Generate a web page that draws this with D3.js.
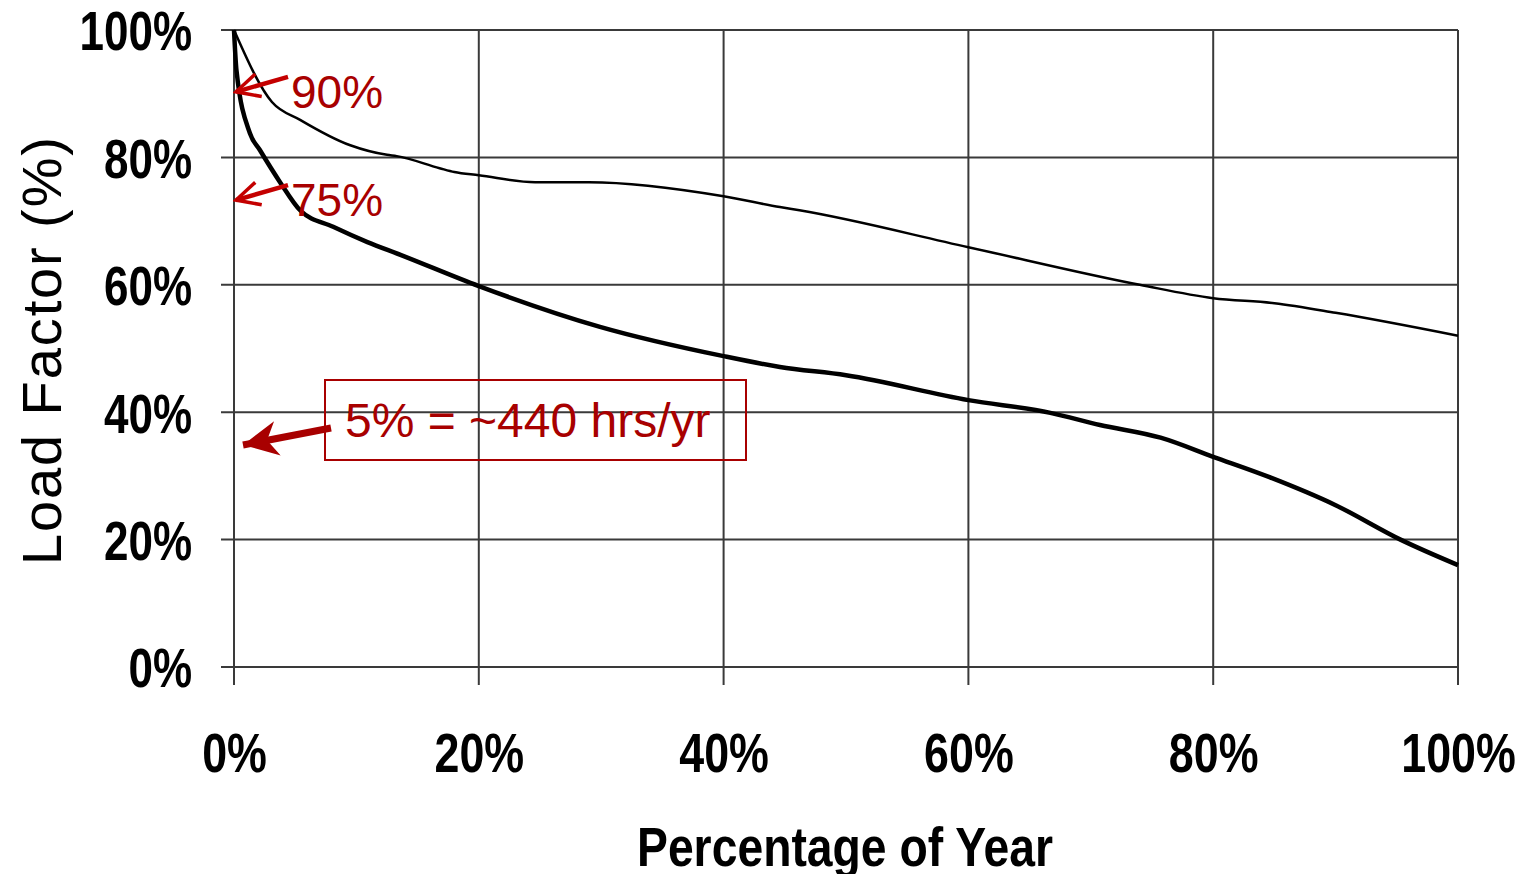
<!DOCTYPE html>
<html>
<head>
<meta charset="utf-8">
<script src="https://cdn.jsdelivr.net/npm/d3@7"></script>
<style>
  body { margin: 0; background: #fff; }
  .tick-label { font-family: "Liberation Sans", Arial, sans-serif; font-weight: bold; }
</style>
</head>
<body>
<div id="container"></div>
<script>
// DATA
const xTicks = [0, 20, 40, 60, 80, 100];
const yTicks = [0, 20, 40, 60, 80, 100];

// thin line (upper curve)
const upperYear = [0, 3.1, 5.4, 9.5, 12.5, 13.3, 16.8, 18, 20, 24.6, 29, 40, 44.6, 46.2, 60, 74, 80, 85, 90, 100];
const upperLoad = [100, 88.7, 85.9, 81.9, 80.4, 80.2, 78.3, 77.7, 77.2, 76.1, 76.1, 73.9, 72.2, 71.7, 65.9, 60, 57.9, 57.1, 55.6, 52];

// thick line (lower curve)
const lowerYear = [0, 0.2, 1.3, 2.1, 3.8, 5.4, 8.1, 10.9, 13.6, 20, 29.9, 40, 44.6, 50, 60, 66.7, 70.75, 75.7, 80, 84.6, 90, 95.3, 100];
const lowerLoad = [100, 93.7, 83.8, 81.2, 76, 71.7, 69.1, 66.7, 64.7, 59.8, 53.4, 48.8, 47.1, 45.8, 41.9, 39.9, 38, 36, 33, 29.8, 25.4, 20, 16];

// callouts
const calloutLabels = ["90%", "75%"];
const calloutValues = [90.3, 73.3];
const noteText = "5% = ~440 hrs/yr";
const noteValue = 34.7;

// SIZES
const W = 1517, H = 874;
const x = d3.scaleLinear().domain([0, 100]).range([234, 1458]);
const y = d3.scaleLinear().domain([0, 100]).range([667, 30]);
const gridColor = "#3a3a3a";
const red = "#a80000";
const narrow = 0.8; // squeeze bold text to look like a narrow face

function squeeze(sel, factor) {
  sel.each(function() {
    const w = this.getComputedTextLength();
    d3.select(this)
      .attr("textLength", w * factor)
      .attr("lengthAdjust", "spacingAndGlyphs");
  });
}

const svg = d3.select("#container")
  .append("svg")
  .attr("width", W)
  .attr("height", H)
  .style("display", "block");

// gridlines
svg.append("g")
  .selectAll("line")
  .data(yTicks)
  .enter()
  .append("line")
  .attr("x1", x(0) - 13)
  .attr("x2", x(100))
  .attr("y1", d => y(d))
  .attr("y2", d => y(d))
  .attr("stroke", gridColor)
  .attr("stroke-width", 2);

svg.append("g")
  .selectAll("line")
  .data(xTicks)
  .enter()
  .append("line")
  .attr("x1", d => x(d))
  .attr("x2", d => x(d))
  .attr("y1", y(100))
  .attr("y2", y(0) + 18)
  .attr("stroke", gridColor)
  .attr("stroke-width", 2);

// axes (labels only)
const yAxis = svg.append("g")
  .attr("transform", `translate(${x(0)},0)`)
  .call(d3.axisLeft(y).tickValues(yTicks).tickSize(0).tickPadding(42).tickFormat(d => d + "%"));
yAxis.select(".domain").remove();
yAxis.selectAll("text")
  .attr("class", "tick-label")
  .attr("fill", "#000")
  .attr("dy", "0.36em")
  .style("font-size", "55px")
  .call(squeeze, narrow);

const xAxis = svg.append("g")
  .attr("transform", `translate(0,${y(0)})`)
  .call(d3.axisBottom(x).tickValues(xTicks).tickSize(0).tickFormat(d => d + "%"));
xAxis.select(".domain").remove();
xAxis.selectAll("text")
  .attr("class", "tick-label")
  .attr("fill", "#000")
  .attr("y", 105)
  .attr("dy", 0)
  .style("font-size", "56px")
  .call(squeeze, narrow);

// axis titles
svg.append("text")
  .attr("class", "tick-label")
  .attr("x", 845)
  .attr("y", 866)
  .attr("text-anchor", "middle")
  .style("font-size", "55px")
  .attr("textLength", 416)
  .attr("lengthAdjust", "spacingAndGlyphs")
  .text("Percentage of Year");

svg.append("text")
  .attr("transform", "translate(61,351) rotate(-90)")
  .attr("text-anchor", "middle")
  .attr("font-family", "'Liberation Sans', Arial, sans-serif")
  .style("font-size", "56px")
  .attr("textLength", 428)
  .attr("lengthAdjust", "spacing")
  .text("Load Factor (%)");

// lines
const line = d3.line()
  .x(d => x(d[0]))
  .y(d => y(d[1]))
  .curve(d3.curveMonotoneX);

svg.append("path")
  .datum(upperYear.map((d, i) => [d, upperLoad[i]]))
  .attr("d", line)
  .attr("fill", "none")
  .attr("stroke", "#000")
  .attr("stroke-width", 2.5)
  .attr("stroke-linejoin", "round");

svg.append("path")
  .datum(lowerYear.map((d, i) => [d, lowerLoad[i]]))
  .attr("d", line)
  .attr("fill", "none")
  .attr("stroke", "#000")
  .attr("stroke-width", 4.5)
  .attr("stroke-linejoin", "round");

// arrow markers
const defs = svg.append("defs");
defs.append("marker")
  .attr("id", "openHead")
  .attr("viewBox", "0 0 10 10")
  .attr("refX", 9)
  .attr("refY", 5)
  .attr("markerWidth", 6.5)
  .attr("markerHeight", 6.5)
  .attr("markerUnits", "strokeWidth")
  .attr("orient", "auto")
  .append("path")
  .attr("d", "M1,1 L9,5 L1,9")
  .attr("fill", "none")
  .attr("stroke", "#c40000")
  .attr("stroke-width", 1.2);

defs.append("marker")
  .attr("id", "solidHead")
  .attr("viewBox", "0 0 10 10")
  .attr("refX", 10)
  .attr("refY", 5)
  .attr("markerWidth", 5)
  .attr("markerHeight", 5)
  .attr("markerUnits", "strokeWidth")
  .attr("orient", "auto")
  .append("path")
  .attr("d", "M10,5 L0,0 L3,5 L0,10 Z")
  .attr("fill", red);

// 90% / 75% callouts
const callouts = svg.append("g")
  .selectAll("g")
  .data(calloutLabels)
  .enter()
  .append("g");

callouts.append("line")
  .attr("x1", x(0) + 54)
  .attr("y1", (d, i) => y(calloutValues[i]) - 15)
  .attr("x2", x(0) + 2)
  .attr("y2", (d, i) => y(calloutValues[i]))
  .attr("stroke", "#c40000")
  .attr("stroke-width", 4.5)
  .attr("marker-end", "url(#openHead)");

callouts.append("text")
  .attr("x", x(0) + 57)
  .attr("y", (d, i) => y(calloutValues[i]) + 16)
  .attr("font-family", "'Liberation Sans', Arial, sans-serif")
  .style("font-size", "46px")
  .attr("fill", red)
  .text(d => d);

// 5% note box
svg.append("rect")
  .attr("x", 325)
  .attr("y", 380)
  .attr("width", 421)
  .attr("height", 80)
  .attr("fill", "none")
  .attr("stroke", red)
  .attr("stroke-width", 2);

svg.append("text")
  .attr("x", 345)
  .attr("y", 437)
  .attr("font-family", "'Liberation Sans', Arial, sans-serif")
  .style("font-size", "48px")
  .attr("fill", red)
  .text(noteText);

svg.append("line")
  .attr("x1", 331)
  .attr("y1", 428)
  .attr("x2", x(0) + 9)
  .attr("y2", y(noteValue) - 1)
  .attr("stroke", red)
  .attr("stroke-width", 7)
  .attr("marker-end", "url(#solidHead)");
</script>
</body>
</html>
